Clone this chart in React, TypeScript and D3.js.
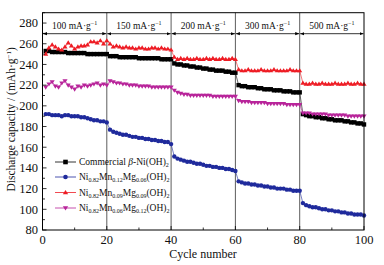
import React from "react";
import * as d3 from "d3";

const cycles = d3.range(1, 101);

const commercial = [
  253, 253, 252, 252, 252, 252, 252, 251, 251, 251, 251, 251, 251, 250, 250, 250, 250, 250, 250, 250,
  248, 248, 248, 247, 247, 247, 247, 247, 247, 246, 246, 246, 246, 246, 246, 246, 245, 245, 245, 245,
  241, 240, 240, 239, 239, 238, 238, 237, 237, 236, 236, 235, 235, 234, 234, 234, 233, 233, 232, 232,
  220, 219, 219, 218, 218, 218, 217, 217, 216, 216, 216, 215, 215, 215, 214, 214, 214, 213, 213, 213,
  192, 191, 190, 190, 189, 189, 188, 188, 187, 187, 186, 186, 186, 185, 185, 184, 184, 183, 183, 182,
];
const mn12 = [
  192, 192, 191, 191, 191, 190, 191, 191, 190, 190, 190, 189, 189, 188, 187, 186, 186, 185, 185, 184,
  177, 175, 174, 173, 172, 172, 171, 170, 170, 169, 169, 168, 168, 167, 167, 166, 166, 165, 165, 163,
  151, 149, 148, 147, 146, 146, 145, 144, 144, 143, 142, 142, 141, 141, 140, 140, 139, 139, 138, 137,
  127, 126, 125, 125, 124, 124, 123, 123, 122, 122, 121, 121, 120, 120, 120, 119, 119, 118, 118, 118,
  106, 104, 103, 102, 102, 101, 100, 100, 99, 99, 98, 98, 97, 97, 96, 96, 95, 95, 95, 94,
];
const mn09 = [
  250, 256, 259, 257, 255, 254, 257, 261, 258, 255, 257, 258, 258, 259, 262, 262, 261, 263, 260, 263,
  260, 257, 258, 257, 256, 257, 256, 256, 255, 256, 256, 255, 255, 256, 256, 255, 256, 255, 255, 254,
  247, 245, 246, 245, 246, 245, 245, 246, 245, 245, 246, 245, 246, 245, 245, 246, 245, 245, 246, 245,
  235, 234, 234, 235, 234, 234, 234, 235, 234, 234, 234, 235, 234, 234, 234, 234, 235, 234, 234, 234,
  222, 221, 221, 222, 221, 221, 222, 221, 221, 221, 222, 221, 221, 221, 222, 221, 221, 222, 221, 221,
];
const mn06 = [
  218, 221, 223, 219, 218, 222, 224, 220, 218, 216, 219, 218, 220, 219, 220, 221, 222, 220, 221, 220,
  224, 223, 222, 222, 221, 221, 220, 220, 220, 219, 219, 219, 219, 218, 218, 218, 218, 218, 218, 218,
  215, 213, 212, 211, 211, 210, 210, 210, 210, 210, 210, 210, 209, 209, 209, 209, 209, 209, 209, 209,
  205, 204, 204, 204, 203, 203, 203, 203, 203, 202, 202, 202, 202, 202, 202, 201, 201, 201, 201, 201,
  193, 193, 193, 192, 192, 192, 192, 192, 191, 191, 191, 191, 191, 191, 190, 190, 190, 190, 190, 190,
];

const rateLabels = ["100", "150", "200", "300", "500"];
const rateBounds = [0, 20, 40, 60, 80, 100];
const xTicks = [0, 20, 40, 60, 80, 100];
const yTicks = [80, 100, 120, 140, 160, 180, 200, 220, 240, 260, 280];

type Sym = "square" | "circle" | "triangle" | "down";
const series: { name: string; values: number[]; color: string; sym: Sym }[] = [
  { name: "commercial", values: commercial, color: "#000000", sym: "square" },
  { name: "mn12", values: mn12, color: "#1f2a9c", sym: "circle" },
  { name: "mn09", values: mn09, color: "#ee1c24", sym: "triangle" },
  { name: "mn06", values: mn06, color: "#b8249a", sym: "down" },
];

const FONT = "'Liberation Serif', 'DejaVu Serif', serif";

function Marker({ sym, x, y, color, s }: { sym: Sym; x: number; y: number; color: string; s: number }) {
  if (sym === "square") return <rect x={x - s / 2} y={y - s / 2} width={s} height={s} fill={color} />;
  if (sym === "circle") return <circle cx={x} cy={y} r={s / 2} fill={color} />;
  if (sym === "triangle") {
    const h = s * 0.95;
    return <path d={`M${x},${y - h * 0.6}L${x + s * 0.58},${y + h * 0.4}L${x - s * 0.58},${y + h * 0.4}Z`} fill={color} />;
  }
  const h = s * 0.95;
  return <path d={`M${x},${y + h * 0.6}L${x + s * 0.58},${y - h * 0.4}L${x - s * 0.58},${y - h * 0.4}Z`} fill={color} />;
}

function Formula({ a, b, c }: { a: string; b: string; c: string }) {
  const sub = { fontSize: 6 } as const;
  return (
    <>
      <tspan>Ni</tspan>
      <tspan style={sub} dy={2}>{a}</tspan>
      <tspan dy={-2}>Mn</tspan>
      <tspan style={sub} dy={2}>{b}</tspan>
      <tspan dy={-2}>Mg</tspan>
      <tspan style={sub} dy={2}>{c}</tspan>
      <tspan dy={-2}>(OH)</tspan>
      <tspan style={sub} dy={2}>2</tspan>
    </>
  );
}

export default function App() {
  const W = 384, H = 265;
  const L = 42.5, R = 364, T = 12.7, B = 230;
  const x = d3.scaleLinear().domain([0, 100]).range([L, R]);
  const y = d3.scaleLinear().domain([80, 290]).range([B, T]);

  const xMinor = d3.range(0, 101, 10);
  const yMinor = d3.range(80, 291, 10);
  const arrowY = 33.7;

  const legendRows = [
    { sym: "square" as Sym, color: "#000000", label: "c" },
    { sym: "circle" as Sym, color: "#1f2a9c", label: "12" },
    { sym: "triangle" as Sym, color: "#ee1c24", label: "09" },
    { sym: "down" as Sym, color: "#b8249a", label: "06" },
  ];
  const legY = [162, 177, 192.5, 208];

  return (
    <svg width={W} height={H} style={{ position: "absolute", left: 0, top: 0, background: "#fff" }} fontFamily={FONT}>
      <defs>
        <marker id="ah" viewBox="0 0 10 10" refX="10" refY="5" markerWidth="5" markerHeight="5" orient="auto-start-reverse">
          <path d="M0,1L10,5L0,9Z" fill="#000" />
        </marker>
      </defs>
      <rect x={0} y={0} width={W} height={H} fill="#fff" />

      {rateBounds.slice(1, 5).map((b) => (
        <line key={b} x1={x(b)} x2={x(b)} y1={T} y2={B} stroke="#333" strokeWidth={0.8} />
      ))}

      {rateLabels.map((lab, i) => {
        const x0 = x(rateBounds[i]) + 0.5;
        const x1 = x(rateBounds[i + 1]) - 0.5;
        return (
          <g key={lab}>
            <line x1={x0} x2={x1} y1={arrowY} y2={arrowY} stroke="#000" strokeWidth={0.8}
              markerStart="url(#ah)" markerEnd="url(#ah)" />
            <text x={(x0 + x1) / 2} y={28.5} textAnchor="middle" fontSize={9.5} fill="#111">
              {lab} mA·g<tspan fontSize={6} dy={-3.5}>−1</tspan>
            </text>
          </g>
        );
      })}

      {series.map((s) => (
        <g key={s.name}>
          {rateBounds.slice(0, 5).map((b, k) => {
            const seg = s.values.slice(b, b + 20);
            const segLine = d3.line<number>().x((_, i) => x(cycles[b + i])).y((v) => y(v));
            return <path key={k} d={segLine(seg) || ""} fill="none" stroke={s.color} strokeWidth={0.8} />;
          })}
          {rateBounds.slice(0, 4).map((b, k) => (
            <line key={"j" + k} x1={x(cycles[b + 19])} y1={y(s.values[b + 19])} x2={x(cycles[b + 20])} y2={y(s.values[b + 20])}
              stroke={s.color} strokeWidth={0.6} />
          ))}
          {s.values.map((v, i) => (
            <Marker key={i} sym={s.sym} x={x(cycles[i])} y={y(v)} color={s.color} s={4.4} />
          ))}
        </g>
      ))}

      <rect x={L} y={T} width={R - L} height={B - T} fill="none" stroke="#000" strokeWidth={1} />

      {xMinor.map((t) => (
        <line key={"xm" + t} x1={x(t)} x2={x(t)} y1={B} y2={B - (t % 20 === 0 ? 4 : 2.5)} stroke="#000" strokeWidth={0.8} />
      ))}
      {xTicks.map((t) => (
        <text key={"xt" + t} x={x(t)} y={244} textAnchor="middle" fontSize={12.5} fill="#111">{t}</text>
      ))}
      {yMinor.map((t) => (
        <line key={"ym" + t} x1={L} x2={L + (t % 20 === 0 ? 4 : 2.5)} y1={y(t)} y2={y(t)} stroke="#000" strokeWidth={0.8} />
      ))}
      {yTicks.map((t) => (
        <text key={"yt" + t} x={38} y={y(t) + 4.3} textAnchor="end" fontSize={12.5} fill="#111">{t}</text>
      ))}

      <text x={203} y={258} textAnchor="middle" fontSize={12} fill="#111">Cycle number</text>
      <text transform={`translate(14.5,${(T + B) / 2 - 2}) rotate(-90)`} textAnchor="middle" fontSize={11.5} fill="#111">
        Discharge capacity / (mAh·g<tspan fontSize={7} dy={-4}>−1</tspan><tspan dy={4}>)</tspan>
      </text>

      {legendRows.map((r, i) => (
        <g key={r.label}>
          <line x1={55} x2={76} y1={legY[i]} y2={legY[i]} stroke={r.color} strokeWidth={0.8} />
          <Marker sym={r.sym} x={65.5} y={legY[i]} color={r.color} s={4.6} />
          <text x={79} y={legY[i] + 3.3} fontSize={9.5} fill="#111">
            {r.label === "c" ? (
              <>Commercial <tspan fontStyle="italic">β</tspan>-Ni(OH)<tspan fontSize={6} dy={2}>2</tspan></>
            ) : r.label === "12" ? (
              <Formula a="0.82" b="0.12" c="0.06" />
            ) : r.label === "09" ? (
              <Formula a="0.82" b="0.09" c="0.09" />
            ) : (
              <Formula a="0.82" b="0.06" c="0.12" />
            )}
          </text>
        </g>
      ))}
    </svg>
  );
}
